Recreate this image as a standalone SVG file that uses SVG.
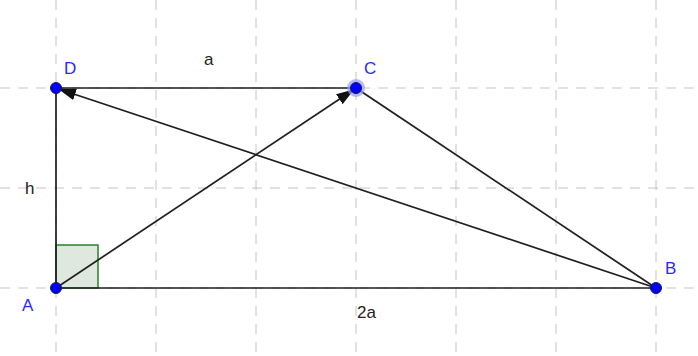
<svg xmlns="http://www.w3.org/2000/svg" width="698" height="356" viewBox="0 0 698 356">
<style>
.grid{stroke:#c4c4c4;stroke-width:1;stroke-dasharray:10 8;fill:none}
.seg{stroke:#1e1e1e;stroke-width:1.7;fill:none}
.pt{fill:#0000ff;stroke:#1a1a40;stroke-width:1}
.lbl{font-family:"Liberation Sans",Arial,sans-serif;font-size:17px;fill:#2a2aff}
.txt{font-family:"Liberation Sans",Arial,sans-serif;font-size:17px;fill:#222}
</style>
<defs>
<marker id="arr" viewBox="0 0 18 12" refX="18" refY="6" markerWidth="18" markerHeight="12" markerUnits="userSpaceOnUse" orient="auto">
<path d="M0,0 L18,6 L0,12 Z" fill="#111"/>
</marker>
</defs>
<rect width="698" height="356" fill="#fff"/>
<g id="grid">
<line class="grid" x1="56" y1="0" x2="56" y2="356"/>
<line class="grid" x1="156" y1="0" x2="156" y2="356"/>
<line class="grid" x1="256" y1="0" x2="256" y2="356"/>
<line class="grid" x1="356" y1="0" x2="356" y2="356"/>
<line class="grid" x1="456" y1="0" x2="456" y2="356"/>
<line class="grid" x1="556" y1="0" x2="556" y2="356"/>
<line class="grid" x1="656" y1="0" x2="656" y2="356"/>
<line class="grid" x1="0" y1="88" x2="698" y2="88"/>
<line class="grid" x1="0" y1="188" x2="698" y2="188"/>
<line class="grid" x1="0" y1="288" x2="698" y2="288"/>
</g>
<g id="rightangle">
<rect x="56" y="245" width="42" height="43" fill="#dfe8df" stroke="#1a7a1a" stroke-width="1.4"/>
</g>
<g id="connectors">
<line class="seg" x1="56" y1="288" x2="56" y2="88"/>
<line class="seg" x1="56" y1="88" x2="356" y2="88"/>
<line class="seg" x1="356" y1="88" x2="656" y2="288"/>
<line class="seg" x1="56" y1="288" x2="656" y2="288"/>
<line class="seg" x1="656" y1="288" x2="58" y2="88.7" marker-end="url(#arr)"/>
<line class="seg" x1="56" y1="288" x2="354.3" y2="89.2" marker-end="url(#arr)"/>
</g>
<g id="labels">
<text class="txt" x="204" y="65">a</text>
<text class="txt" x="25" y="194">h</text>
<text class="txt" x="357" y="318">2a</text>
</g>
<g id="D"><circle class="pt" cx="56" cy="88" r="5.5"/><text class="lbl" x="64" y="74">D</text></g>
<g id="C"><circle cx="356" cy="88" r="9" fill="#9a9aff" opacity="0.7"/><circle class="pt" cx="356" cy="88" r="5.5"/><text class="lbl" x="364" y="74">C</text></g>
<g id="A"><circle class="pt" cx="56" cy="288" r="5.5"/><text class="lbl" x="22" y="311">A</text></g>
<g id="B"><circle class="pt" cx="656" cy="288" r="5.5"/><text class="lbl" x="665" y="274">B</text></g>
</svg>
